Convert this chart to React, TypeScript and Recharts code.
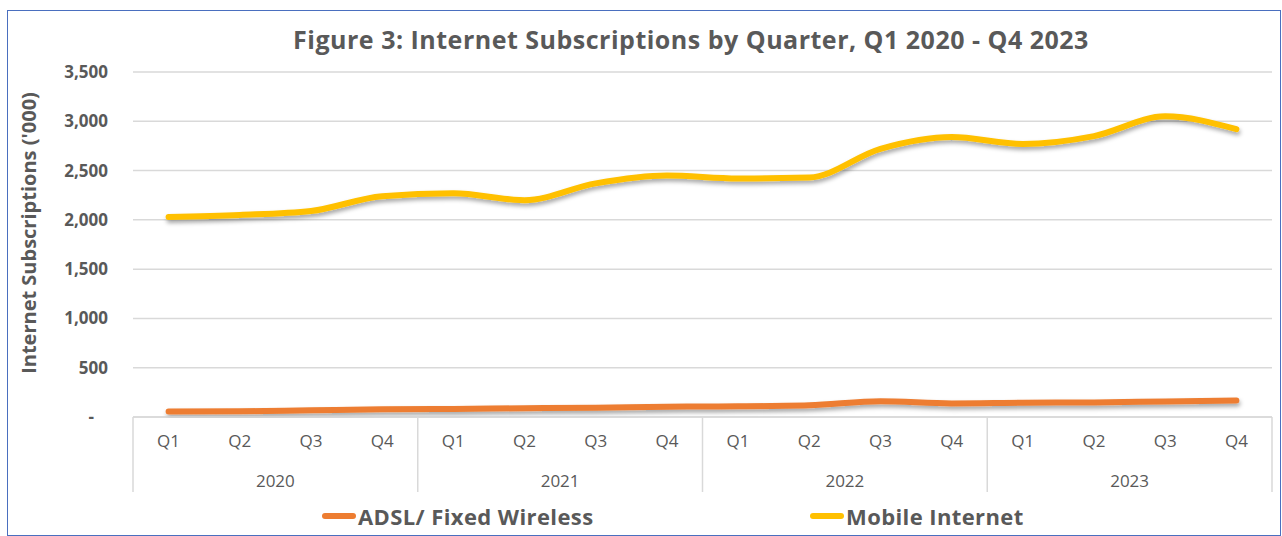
import { LineChart, Line, XAxis, YAxis, CartesianGrid } from "recharts";

const quarters = ["Q1", "Q2", "Q3", "Q4", "Q1", "Q2", "Q3", "Q4", "Q1", "Q2", "Q3", "Q4", "Q1", "Q2", "Q3", "Q4"];
const years = ["2020", "2021", "2022", "2023"];
const adsl = [55, 58, 68, 78, 82, 90, 95, 105, 108, 118, 160, 138, 145, 148, 158, 168];
const mobile = [2030, 2050, 2090, 2240, 2270, 2200, 2370, 2450, 2420, 2430, 2720, 2840, 2770, 2850, 3050, 2920];
const yTicks = [0, 500, 1000, 1500, 2000, 2500, 3000, 3500];

const W = 1282;
const H = 536;
const M = { top: 72, right: 10, left: 50, bottom: 44 };
const Y_W = 83;
const PLOT_W = W - M.left - Y_W - M.right;
const BAND = PLOT_W / quarters.length;
const AXIS_H = 75;

const TEXT = "#595959";
const FONT = "'Open Sans', sans-serif";

const data = quarters.map((q, i) => ({
  key: `${years[Math.floor(i / 4)]}-${q}`,
  q,
  adsl: adsl[i],
  mobile: mobile[i],
}));

const XTick = (props: any) => {
  const { x, y, index } = props;
  const q = quarters[index];
  const left = x - BAND / 2;
  return (
    <g>
      <text x={x} y={y + 30} textAnchor="middle" fill={TEXT} fontSize={17} fontFamily={FONT}>
        {q}
      </text>
      {index % 4 === 0 && (
        <line x1={left} x2={left} y1={y} y2={y + AXIS_H} stroke="#d9d9d9" strokeWidth={1.5} />
      )}
      {index === quarters.length - 1 && (
        <line x1={x + BAND / 2} x2={x + BAND / 2} y1={y} y2={y + AXIS_H} stroke="#d9d9d9" strokeWidth={1.5} />
      )}
      {index % 4 === 1 && (
        <text x={x + BAND / 2} y={y + 70} textAnchor="middle" fill={TEXT} fontSize={17} fontFamily={FONT}>
          {years[Math.floor(index / 4)]}
        </text>
      )}
    </g>
  );
};

const YTick = (props: any) => {
  const { x, y, payload } = props;
  const v = payload.value as number;
  return (
    <text
      x={v === 0 ? x - 14 : x}
      y={y}
      dy={6}
      textAnchor="end"
      fill={TEXT}
      fontSize={17}
      fontWeight={700}
      fontFamily={FONT}
    >
      {v === 0 ? "-" : v.toLocaleString("en-US")}
    </text>
  );
};

const LegendItem = ({ color, label, left }: { color: string; label: string; left: number }) => (
  <div style={{ position: "absolute", left, top: 501, height: 30, display: "flex", alignItems: "center" }}>
    <div style={{ width: 34, height: 6, borderRadius: 3, background: color, marginRight: 2 }} />
    <span style={{ fontFamily: FONT, fontWeight: 700, fontSize: 22, color: TEXT, letterSpacing: 0.4 }}>{label}</span>
  </div>
);

export default function App() {
  return (
    <div style={{ position: "absolute", left: 0, top: 0, width: W, height: H, background: "#fff", overflow: "hidden" }}>
      <div
        style={{
          position: "absolute",
          left: 7,
          top: 10,
          width: W - 8,
          height: H - 10,
          border: "1px solid #4a6fbf",
          boxSizing: "border-box",
        }}
      />
      <div
        style={{
          position: "absolute",
          left: 0,
          width: W,
          top: 22,
          textAlign: "center",
          paddingLeft: 100,
          boxSizing: "border-box",
          fontFamily: FONT,
          fontWeight: 700,
          fontSize: 25,
          letterSpacing: 0.5,
          color: TEXT,
        }}
      >
        Figure 3: Internet Subscriptions by Quarter, Q1 2020 - Q4 2023
      </div>
      <div
        style={{
          position: "absolute",
          left: 28,
          top: 233,
          transform: "translate(-50%, -50%) rotate(-90deg)",
          whiteSpace: "nowrap",
          fontFamily: FONT,
          fontWeight: 700,
          fontSize: 20,
          color: TEXT,
        }}
      >
        Internet Subscriptions ('000)
      </div>
      <LineChart width={W} height={H} data={data} margin={M} style={{ position: "absolute", left: 0, top: 0 }}>
        <defs>
          <filter id="shadow" x="-5%" y="-50%" width="110%" height="200%">
            <feDropShadow dx="1" dy="3" stdDeviation="2" floodColor="#000" floodOpacity="0.35" />
          </filter>
        </defs>
        <CartesianGrid vertical={false} stroke="#d9d9d9" strokeWidth={1.5} />
        <XAxis
          dataKey="key"
          scale="band"
          height={AXIS_H}
          interval={0}
          axisLine={{ stroke: "#d9d9d9", strokeWidth: 1.5 }}
          tickLine={false}
          tickSize={0}
          tickMargin={0}
          tick={<XTick />}
        />
        <YAxis
          width={Y_W}
          domain={[0, 3500]}
          ticks={yTicks}
          axisLine={false}
          tickLine={false}
          tickSize={0}
          tickMargin={25}
          tick={<YTick />}
        />
        <Line
          dataKey="adsl"
          type="monotone"
          stroke="#ED7D31"
          strokeWidth={6}
          strokeLinecap="round"
          dot={false}
          filter="url(#shadow)"
          isAnimationActive={false}
        />
        <Line
          dataKey="mobile"
          type="monotone"
          stroke="#FFC000"
          strokeWidth={6}
          strokeLinecap="round"
          dot={false}
          filter="url(#shadow)"
          isAnimationActive={false}
        />
      </LineChart>
      <LegendItem color="#ED7D31" label="ADSL/ Fixed Wireless" left={322} />
      <LegendItem color="#FFC000" label="Mobile Internet" left={810} />
    </div>
  );
}
